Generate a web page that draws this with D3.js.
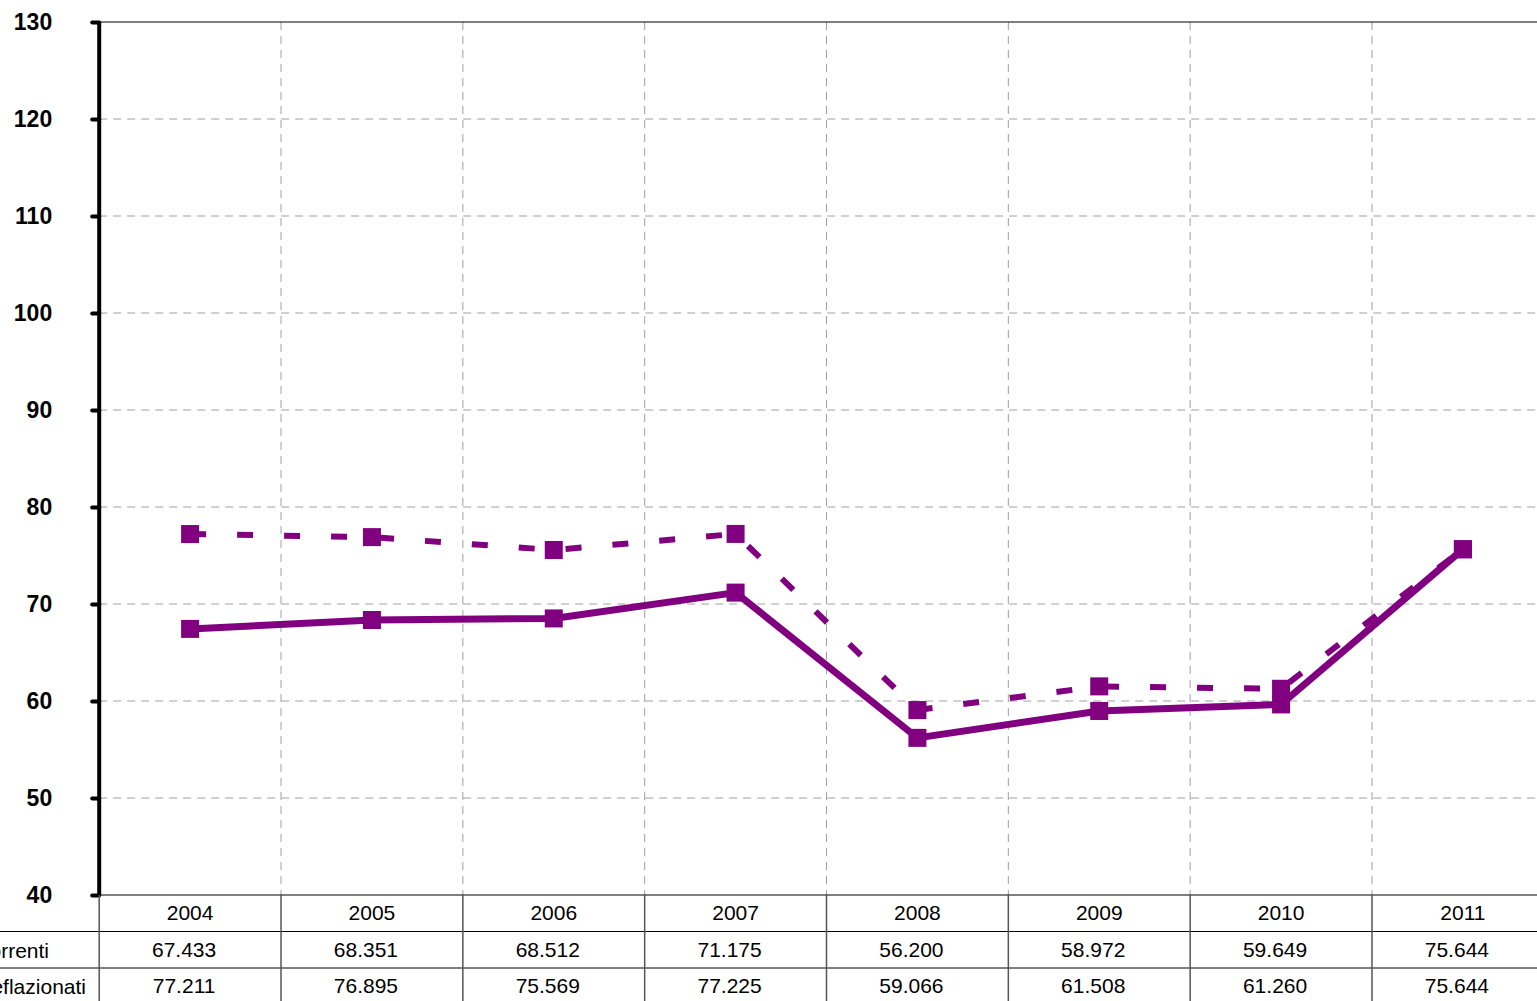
<!DOCTYPE html>
<html lang="it">
<head>
<meta charset="UTF-8">
<script src="https://cdn.jsdelivr.net/npm/d3@7"></script>
<style>
    body { margin: 0; background: #fff; overflow: hidden; }
    svg { display: block; font-family: "Liberation Sans", Arial, sans-serif; }
    .grid line { stroke: #a0a0a0; stroke-dasharray: 8,6; stroke-width: 1; }
</style>
<title>Valori correnti e deflazionati</title>
</head>
<body>
<svg width="1537" height="1001"></svg>
<script>
// data
var years = ["2004", "2005", "2006", "2007", "2008", "2009", "2010", "2011"];
var correnti = [67.433, 68.351, 68.512, 71.175, 56.200, 58.972, 59.649, 75.644];
var deflazionati = [77.211, 76.895, 75.569, 77.225, 59.066, 61.508, 61.260, 75.644];
var rowLabels = ["Valori correnti", "Valori deflazionati"];
var yTicks = [40, 50, 60, 70, 80, 90, 100, 110, 120, 130];

var svg = d3.select("svg");
var plotL = 99.2, plotT = 22, plotB = 895, plotR = 1553.8; // plot runs off the right edge
var purple = "#800080";

var x = d3.scaleBand().domain(years).range([plotL, plotR]);
var y = d3.scaleLinear().domain([40, 130]).range([plotB, plotT]);

// grid
var grid = svg.append("g").attr("class", "grid");
grid.selectAll(".h").data(yTicks.slice(1, -1)).enter().append("line")
    .attr("x1", plotL).attr("x2", 1537)
    .attr("y1", function(d){ return y(d); }).attr("y2", function(d){ return y(d); });
grid.selectAll(".v").data(years.slice(1)).enter().append("line")
    .attr("x1", function(d){ return x(d); }).attr("x2", function(d){ return x(d); })
    .attr("y1", plotT).attr("y2", plotB);

// top border
svg.append("line").attr("x1", plotL).attr("x2", 1537).attr("y1", plotT).attr("y2", plotT)
    .attr("stroke", "#000").attr("stroke-width", 1);

// y axis
var yAxis = svg.append("g")
    .attr("transform", "translate(" + plotL + ",0)")
    .call(d3.axisLeft(y).tickValues(yTicks).tickSize(7).tickPadding(40));
yAxis.select(".domain").attr("stroke-width", 4).attr("d", "M0," + plotT + "V" + plotB);
yAxis.selectAll(".tick line").attr("stroke-width", 4).attr("stroke-linecap", "round");
yAxis.selectAll("text").attr("font-size", "23px").attr("font-weight", "bold")
    .attr("font-family", "Liberation Sans, Arial, sans-serif").attr("fill", "#000");

// lines
var line = d3.line()
    .x(function(d, i){ return x(years[i]) + x.bandwidth() / 2; })
    .y(function(d){ return y(d); });

function drawSeries(values, dashed) {
    var g = svg.append("g");
    g.append("path").datum(values)
        .attr("d", line)
        .attr("fill", "none")
        .attr("stroke", purple)
        .attr("stroke-width", dashed ? 6 : 7)
        .attr("stroke-dasharray", dashed ? "16,31" : null)
        .attr("stroke-linejoin", "miter");
    g.selectAll("rect").data(values).enter().append("rect")
        .attr("x", function(d, i){ return x(years[i]) + x.bandwidth() / 2 - 9; })
        .attr("y", function(d){ return y(d) - 9; })
        .attr("width", 18).attr("height", 18)
        .attr("fill", purple);
}
drawSeries(correnti, false);
drawSeries(deflazionati, true);

// data table
var rowH = 36.5;
var table = svg.append("g");
[0, 1, 2].forEach(function(r){
    table.append("line")
        .attr("x1", r === 0 ? plotL : 0).attr("x2", 1537)
        .attr("y1", plotB + r * rowH).attr("y2", plotB + r * rowH)
        .attr("stroke", "#000").attr("stroke-width", 1);
});
table.selectAll(".sep").data(years).enter().append("line")
    .attr("x1", function(d){ return x(d); }).attr("x2", function(d){ return x(d); })
    .attr("y1", plotB).attr("y2", 1001)
    .attr("stroke", "#555").attr("stroke-width", 1.5);

table.selectAll(".yr").data(years).enter().append("text")
    .attr("x", function(d){ return x(d) + x.bandwidth() / 2; })
    .attr("y", plotB + 25)
    .attr("text-anchor", "middle").attr("font-size", "21px")
    .text(function(d){ return d; });

[correnti, deflazionati].forEach(function(vals, r){
    table.selectAll(".v" + r).data(vals).enter().append("text")
        .attr("x", function(d, i){ return x(years[i]) + x.bandwidth() / 2 - 6; })
        .attr("y", plotB + rowH * (r + 1) + 25)
        .attr("text-anchor", "middle").attr("font-size", "21px")
        .text(function(d){ return d.toFixed(3); });
});

table.selectAll(".lab").data(rowLabels).enter().append("text")
    .attr("x", function(d, i){ return i === 0 ? 49 : 86; })
    .attr("y", function(d, i){ return plotB + rowH * (i + 1) + 26; })
    .attr("text-anchor", "end").attr("font-size", "21px")
    .text(function(d){ return d; });
</script>
</body>
</html>
